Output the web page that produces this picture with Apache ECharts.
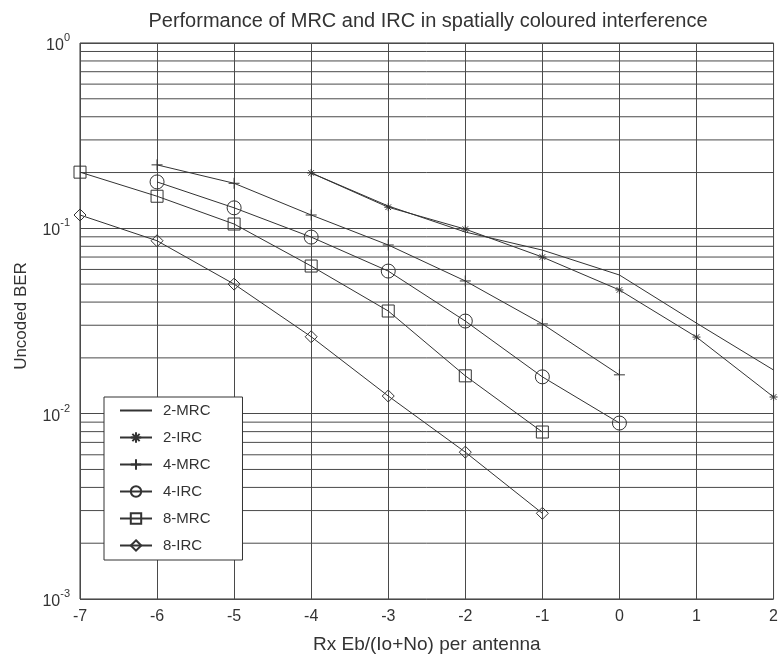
<!DOCTYPE html>
<html>
<head>
<meta charset="utf-8">
<script src="https://cdn.jsdelivr.net/npm/echarts@6/dist/echarts.min.js"></script>
<style>html,body{margin:0;padding:0;background:#fff}#c{width:781px;height:661px}</style>
</head>
<body>
<div id="c"></div>
<script>
// x-axis values (Rx Eb/(Io+No) per antenna, dB)
const xTicks = [-7, -6, -5, -4, -3, -2, -1, 0, 1, 2];
// Series data as [x, BER]
const mrc2 = [[-4, 0.199], [-3, 0.132], [-2, 0.0955], [-1, 0.0763], [0, 0.056], [1, 0.0308], [2, 0.0172]];
const irc2 = [[-4, 0.199], [-3, 0.130], [-2, 0.099], [-1, 0.070], [0, 0.0465], [1, 0.0259], [2, 0.0123]];
const mrc4 = [[-6, 0.22], [-5, 0.175], [-4, 0.118], [-3, 0.0813], [-2, 0.052], [-1, 0.0305], [0, 0.0162]];
const irc4 = [[-6, 0.178], [-5, 0.129], [-4, 0.0897], [-3, 0.0588], [-2, 0.0316], [-1, 0.0158], [0, 0.0089]];
const mrc8 = [[-7, 0.201], [-6, 0.149], [-5, 0.1055], [-4, 0.0626], [-3, 0.0358], [-2, 0.0160], [-1, 0.00796]];
const irc8 = [[-7, 0.118], [-6, 0.0857], [-5, 0.050], [-4, 0.026], [-3, 0.01245], [-2, 0.0062], [-1, 0.0029]];
// log-axis minor grid values (2..9 x each decade)
const decades = [0.001, 0.01, 0.1];
const minorMult = [2, 3, 4, 5, 6, 7, 8, 9];

const minorVals = [];
decades.forEach(d => minorMult.forEach(m => minorVals.push(+(d * m).toPrecision(3))));

const ink = '#333';
const gridInk = '#4a4a4a';
const FONT = 'Liberation Sans';

function mk(name, data, symbol, size) {
  return {
    name: name, type: 'line', data: data, z: 5,
    symbol: symbol || 'circle', symbolSize: size || 10, showSymbol: !!symbol,
    lineStyle: { color: ink, width: 1 },
    itemStyle: symbol
      ? { color: 'transparent', borderColor: ink, borderWidth: 1 }
      : { color: 'transparent', borderColor: 'transparent', borderWidth: 0 },
    emphasis: { disabled: true }, animation: false
  };
}

const series = [
  mk('2-MRC', mrc2, null),
  mk('2-IRC', irc2, 'path://M0,-1L0,1M-1,0L1,0M-0.7,-0.7L0.7,0.7M-0.7,0.7L0.7,-0.7', 8),
  mk('4-MRC', mrc4, 'path://M0,-1L0,1M-1,0L1,0', 11),
  mk('4-IRC', irc4, 'circle', 14),
  mk('8-MRC', mrc8, 'rect', 12),
  mk('8-IRC', irc8, 'diamond', 12)
];
const xMin = xTicks[0], xMax = xTicks[xTicks.length - 1];
minorVals.forEach(v => {
  series.push({
    name: 'grid' + v, type: 'line', z: 1, silent: true, symbol: 'none', animation: false,
    data: [[xMin, v], [xMax, v]],
    lineStyle: { color: gridInk, width: 1 }, emphasis: { disabled: true }, tooltip: { show: false }
  });
});

const chart = echarts.init(document.getElementById('c'), null, { renderer: 'canvas' });
chart.setOption({
  backgroundColor: '#fff',
  animation: false,
  title: {
    text: 'Performance of MRC and IRC in spatially coloured interference',
    left: 423, textAlign: 'center', top: 6,
    textStyle: { fontFamily: FONT, fontSize: 20, fontWeight: 'normal', color: ink }
  },
  grid: { left: 80, right: 3, top: 43, bottom: 62, show: true, borderColor: ink, borderWidth: 1, backgroundColor: 'transparent' },
  legend: {
    orient: 'vertical', left: 104, top: 397,
    padding: [6, 32, 7, 15], itemGap: 12, itemWidth: 32, itemHeight: 13,
    backgroundColor: '#fff', borderColor: ink, borderWidth: 1,
    textStyle: { fontFamily: FONT, fontSize: 15, color: ink, padding: [0, 0, 0, 6] },
    data: ['2-MRC', '2-IRC', '4-MRC', '4-IRC', '8-MRC', '8-IRC']
  },
  xAxis: {
    type: 'value', min: -7, max: 2, interval: 1,
    name: 'Rx Eb/(Io+No) per antenna', nameLocation: 'middle', nameGap: 36,
    nameTextStyle: { fontFamily: FONT, fontSize: 19, color: ink },
    axisLine: { show: false }, axisTick: { show: false },
    axisLabel: { fontFamily: FONT, fontSize: 16, color: ink, margin: 10 },
    splitLine: { show: true, lineStyle: { color: gridInk, width: 1 } }
  },
  yAxis: {
    type: 'log', logBase: 10, min: 0.001, max: 1, interval: 1,
    name: 'Uncoded BER', nameLocation: 'middle', nameGap: 50,
    nameTextStyle: { fontFamily: FONT, fontSize: 17, color: ink, padding: [0, 0, 0, 10] },
    axisLine: { show: false }, axisTick: { show: false },
    axisLabel: {
      margin: 10,
      formatter: function (v) {
        const e = Math.round(Math.log10(v));
        return '{b|10}{s|' + e + '}';
      },
      rich: {
        b: { fontFamily: FONT, fontSize: 16, color: ink, verticalAlign: 'bottom' },
        s: { fontFamily: FONT, fontSize: 11, color: ink, verticalAlign: 'top', padding: [0, 0, 10, 0] }
      }
    },
    splitLine: { show: true, lineStyle: { color: gridInk, width: 1 } }
  },
  series: series
});
</script>
</body>
</html>
